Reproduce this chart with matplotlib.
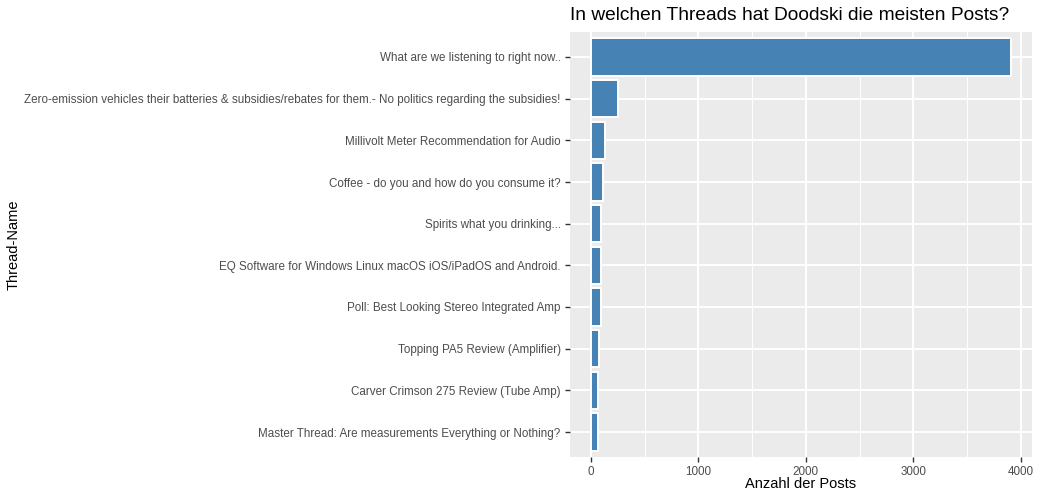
import numpy as np
from matplotlib import pyplot as plt
from matplotlib.ticker import MultipleLocator

# Daten (von oben nach unten)
threads = [
    'What are we listening to right now..',
    'Zero-emission vehicles their batteries & subsidies/rebates for them.- No politics regarding the subsidies!',
    'Millivolt Meter Recommendation for Audio',
    'Coffee - do you and how do you consume it?',
    'Spirits what you drinking...',
    'EQ Software for Windows Linux macOS iOS/iPadOS and Android.',
    'Poll: Best Looking Stereo Integrated Amp',
    'Topping PA5 Review (Amplifier)',
    'Carver Crimson 275 Review (Tube Amp)',
    'Master Thread: Are measurements Everything or Nothing?',
]
posts = [3910, 256, 132, 108, 96, 93, 90, 72, 69, 67]

plt.rcParams['font.family'] = ['Liberation Sans', 'DejaVu Sans']

fig = plt.figure(figsize=(10.39, 4.99), dpi=100)
ax = fig.add_axes([570/1039, 1 - 457/499, 462/1039, 425/499])

n = len(threads)
ypos = np.arange(n)[::-1]
ax.barh(ypos, posts, height=0.9, color='#4682B4', edgecolor='white', linewidth=1.4, zorder=3)

ax.set_facecolor('#EBEBEB')
for s in ax.spines.values():
    s.set_visible(False)

xmax = max(posts)
ax.set_xlim(-0.05 * xmax, 1.05 * xmax)
ax.set_ylim(-0.6, n - 0.4)
ax.xaxis.set_major_locator(MultipleLocator(1000))
ax.xaxis.set_minor_locator(MultipleLocator(500))
ax.grid(which='major', color='white', linewidth=1.4, zorder=0)
ax.grid(which='minor', axis='x', color='white', linewidth=0.7, zorder=0)
ax.set_axisbelow(True)

ax.set_yticks(ypos)
ax.set_yticklabels(threads)
ax.tick_params(which='major', length=3.8, width=1.0, color='#333333',
               labelcolor='#4D4D4D', labelsize=8.4, pad=3)
ax.tick_params(which='minor', length=0)

ax.set_xlabel('Anzahl der Posts', fontsize=10.5, color='black', labelpad=-1.3)
ax.set_ylabel('Thread-Name', fontsize=10.5, color='black')
ax.yaxis.set_label_coords(-570/462 + 21/462, 0.5)
ax.set_title('In welchen Threads hat Doodski die meisten Posts?', fontsize=13.8,
             loc='left', pad=8.5)

fig.savefig('out.png', dpi=100)
